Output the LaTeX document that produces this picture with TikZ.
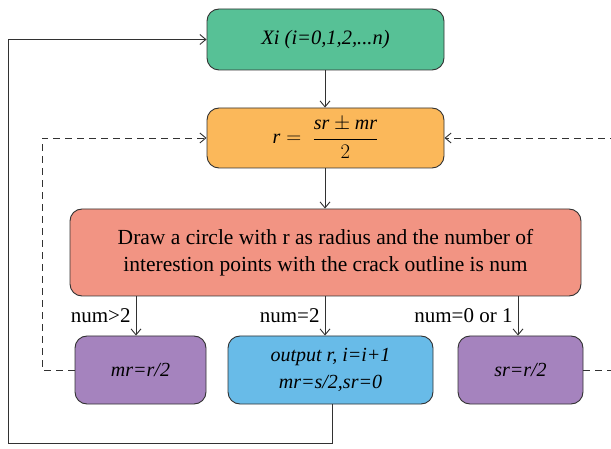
\documentclass[tikz,border=0pt]{standalone}
\usepackage{fontspec}
\setmainfont{Liberation Serif}
\usetikzlibrary{arrows.meta}
\definecolor{cgreen}{RGB}{87,193,150}
\definecolor{corange}{RGB}{251,184,90}
\definecolor{cred}{RGB}{242,148,131}
\definecolor{cpurple}{RGB}{165,131,190}
\definecolor{cblue}{RGB}{104,187,232}
\definecolor{cline}{RGB}{50,50,50}
\begin{document}
\begin{tikzpicture}[x=1pt,y=-1pt,
  box/.style={draw=cline,line width=0.9pt,rounded corners=12pt,inner sep=0pt,align=center},
  arr/.style={draw=cline,line width=0.9pt,-{Straight Barb[length=6pt,width=10pt]}},
  dsh/.style={draw=cline,line width=0.9pt,dash pattern=on 7pt off 5pt},
  lbl/.style={font=\fontsize{21}{24}\selectfont,anchor=east,inner xsep=5pt,inner ysep=2pt}]
\useasboundingbox (0,0) rectangle (611,449);
\node[box,fill=cgreen,minimum width=237pt,minimum height=61pt,font=\itshape\fontsize{20.5}{24}\selectfont] (x) at (325.5,39.5) {Xi (i=0,1,2,...n)};
\node[box,fill=corange,minimum width=237pt,minimum height=60pt,font=\fontsize{20}{24}\selectfont] (r) at (325.5,138) {$\displaystyle \mathit{r}=\;\frac{\mathit{sr}\pm \mathit{mr}}{\;\;2\;\;}$};
\node[box,fill=cred,minimum width=511pt,minimum height=87pt,font=\fontsize{21.5}{27}\selectfont] (d) at (325.5,252.5) {Draw a circle with r as radius and the number of\\interestion points with the crack outline is num};
\node[box,fill=cpurple,minimum width=131pt,minimum height=68pt,font=\itshape\fontsize{20}{24}\selectfont] (m) at (140.5,370) {mr=r/2};
\node[box,fill=cblue,minimum width=205pt,minimum height=68pt,font=\itshape\fontsize{20}{27}\selectfont] (o) at (330.5,370) {output r, i=i+1\\mr=s/2,sr=0};
\node[box,fill=cpurple,minimum width=125pt,minimum height=68pt,font=\itshape\fontsize{20}{24}\selectfont] (s) at (520.5,370) {sr=r/2};
\coordinate (c1) at (136,0);
\coordinate (c2) at (325,0);
\coordinate (c3) at (518,0);
\draw[arr] (x.south -| c2) -- (r.north -| c2);
\draw[arr] (r.south -| c2) -- (d.north -| c2);
\draw[arr] (d.south -| c1) -- node[lbl,pos=0.5]{num>2} (m.north -| c1);
\draw[arr] (d.south -| c2) -- node[lbl,pos=0.5]{num=2} (o.north -| c2);
\draw[arr] (d.south -| c3) -- node[lbl,pos=0.5]{num=0 or 1} (s.north -| c3);
\coordinate (lb) at (8,443);
\draw[arr] (o.south -| 332,0) |- (lb) |- (x.west);
\coordinate (ld) at (42,0);
\draw[dsh,arr] (m.west) -| (ld |- r.west) -- (r.west);
\coordinate (rd) at (616,0);
\draw[dsh,arr] (s.east) -| (rd |- r.east) -- (r.east);
\end{tikzpicture}
\end{document}
